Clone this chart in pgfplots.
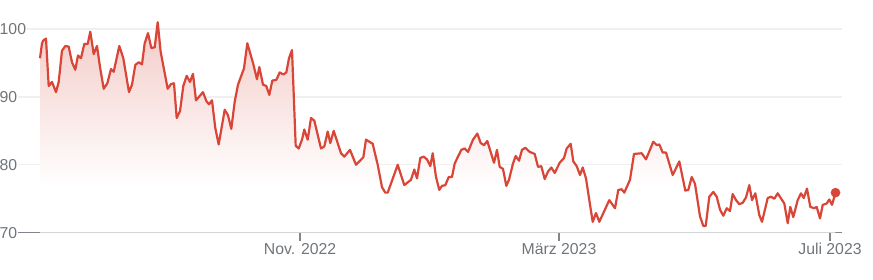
\documentclass[border=0pt]{standalone}
\usepackage{pgfplots}
\pgfplotsset{compat=1.18}
\usepackage{pgfplotstable}
\usepackage{fontspec}
\setmainfont{Liberation Sans}
\definecolor{linered}{RGB}{217,70,55}
\definecolor{fillTop}{RGB}{243,203,199}
\definecolor{labelgray}{RGB}{112,117,122}
\definecolor{axisgray}{RGB}{128,134,139}
\definecolor{gridgray}{RGB}{240,240,240}
\pgfdeclareverticalshading{fadeRed}{100bp}{color(0bp)=(white); color(36bp)=(white); color(75bp)=(fillTop); color(100bp)=(fillTop)}
\pgfplotstableread{
x y
40 95.7
42 97.9
43.3 98.3
46 98.6
48.7 91.6
52 92.2
56 90.7
58.7 92.2
62 96.8
65.3 97.5
68.7 97.4
72 95.1
75.3 94.0
78 96.1
81 95.7
84.3 97.8
87.7 97.8
90.3 99.6
93.7 96.3
97 97.5
100 94.4
103.7 91.2
107.3 92.0
111 94.1
113.7 93.7
119.3 97.5
123.3 95.7
129 90.7
132 91.8
135.3 94.7
138.7 95.1
142 94.8
144.7 97.9
148 99.4
151.3 97.2
154.7 97.3
157.7 101.0
160.7 96.6
167.7 91.2
171 91.9
174 92.0
176.7 86.9
180 87.9
183.3 91.6
186.7 93.1
190 92.2
193 93.4
196 89.5
203 90.7
206.3 89.4
209 88.9
212 89.5
215.3 85.4
218.7 83.0
224.7 88.1
228 87.3
231.3 85.3
234.7 89.3
238 91.8
244 94.2
247.3 97.9
253 95.0
257 92.6
259.3 94.4
263 91.8
266.3 91.6
269.3 90.3
272.3 92.4
276.3 92.5
279.7 93.6
283.3 93.3
286.3 93.6
289 95.7
292 96.9
295.7 82.8
298.7 82.4
302 83.7
304.3 85.2
307.7 83.7
311 86.9
314.3 86.5
321 82.4
324.3 82.7
327.7 84.9
330.3 83.2
333.7 85.0
341 81.7
344.3 81.2
350 82.2
356 80.0
363.3 81.1
366 83.7
369.3 83.4
372.7 83.1
377.7 80.0
382 76.7
385.3 75.9
387.7 75.9
397.7 80.0
404.3 77.0
411 77.8
414.3 79.3
417 78.0
420.3 81.0
423.7 81.2
427 80.8
430.3 79.8
432.7 81.7
436 78.2
439.3 76.3
442 76.9
445.3 77.0
448.7 78.2
452 78.2
454.7 80.2
461.3 82.2
464.7 82.4
468 81.9
473 83.7
477.3 84.6
480.7 83.2
484 82.9
487.3 83.5
494 80.3
497 82.2
499.7 79.7
503 79.4
506.3 76.9
509 77.8
513 80.2
515.7 81.3
519 80.6
522 82.2
525.3 82.5
529.7 81.9
534.7 81.6
538 79.7
541.3 79.8
544.7 77.9
548 79.0
551.3 79.6
554.7 78.8
559.7 80.3
564 81.0
566.7 82.4
570.7 83.1
573.3 80.5
576.7 79.8
580 78.5
582.7 79.6
586 78.0
589.3 74.8
592.7 71.6
596 72.9
599.3 71.6
609.3 74.8
615 73.6
618.3 76.3
621.7 76.4
624.3 75.9
630 77.8
634 81.6
641.7 81.7
646 80.8
653.3 83.4
656.7 82.9
659.3 83.0
662.7 81.8
666 81.8
672.7 78.5
679.3 80.5
685.3 76.2
688.3 76.3
691.7 78.2
695 77.2
700 72.4
703.3 71.0
705.7 71.0
709.3 75.3
713.3 76.0
716.7 75.3
720 73.4
723.3 72.5
726.7 73.6
730 73.2
732.7 75.7
736 74.8
739.3 74.2
742.7 74.4
746 75.2
749.3 77.0
752 74.8
755.3 75.8
759.3 72.6
762 71.6
767.7 75.1
771 75.3
774.3 75.0
777.7 75.8
784.3 74.3
787.7 71.4
790.3 73.8
793.3 72.3
797.7 74.8
801 75.8
803.7 75.1
807 76.5
810.3 73.8
814.3 73.6
816.7 73.8
820 72.1
822.7 74.1
826.7 74.3
829.3 74.9
832 74.1
835.3 75.8
}\pricedata
\begin{document}
\begin{tikzpicture}
\useasboundingbox (-7pt,-46.3pt) rectangle (866pt,232.7pt);
\begin{axis}[
  scale only axis,
  width=835pt, height=232.7pt,
  xmin=7, xmax=842,
  ymin=70, ymax=104.27,
  axis x line=bottom,
  axis y line=left,
  y axis line style={draw=none},
  x axis line style={-, draw=axisgray, line width=1.1pt},
  ytick={70,80,90,100},
  ytick style={draw=none},
  ymajorgrids,
  grid style={draw=gridgray, line width=1.3pt},
  xtick={300,559,830},
  xticklabels={Nov. 2022, März 2023, Juli 2023},
  xtick style={draw=axisgray, line width=1.1pt},
  tick align=outside,
  major tick length=8pt,
  /pgf/number format/assume math mode=true,
  ticklabel style={font=\fontsize{15.8}{18}\selectfont, text=labelgray},
  yticklabel style={anchor=west, fill=white, inner xsep=0.5pt, inner ysep=1pt, xshift=0pt},
  xticklabel style={anchor=base, inner sep=0pt, yshift=-14pt},
  clip=false,
]
\addplot[draw=none, shade, shading=fadeRed] table[x=x,y=y] {\pricedata} \closedcycle;
\addplot[linered, line width=2.2pt, line join=round, no marks] table[x=x,y=y] {\pricedata};
\addplot[only marks, mark=*, mark size=4.6pt, color=linered] coordinates {(835.5,75.9)};
\end{axis}
\end{tikzpicture}
\end{document}
